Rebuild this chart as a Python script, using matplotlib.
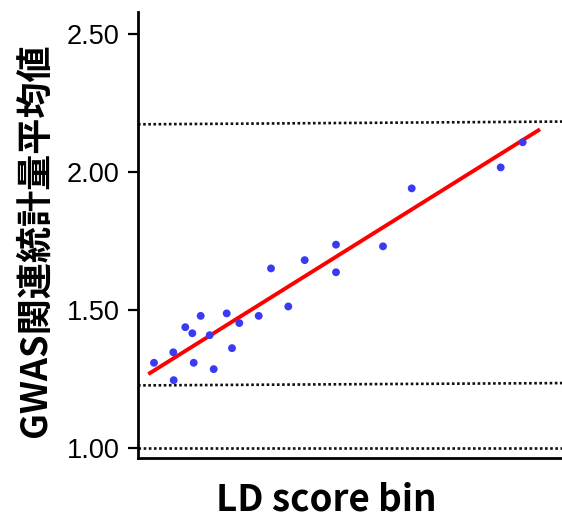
import matplotlib
matplotlib.use("Agg")
import matplotlib.pyplot as plt
import numpy as np

# Data (LD score bin vs mean GWAS statistic)
ld_score = [0.160, 0.353, 0.357, 0.473, 0.543, 0.557, 0.627, 0.717, 0.757, 0.887, 0.940,
            1.013, 1.207, 1.330, 1.503, 1.667, 1.980, 1.980, 2.450, 2.737, 3.627, 3.847]
gwas_mean = [1.309, 1.347, 1.246, 1.438, 1.416, 1.309, 1.479, 1.409, 1.286, 1.488, 1.362,
             1.453, 1.479, 1.651, 1.513, 1.681, 1.737, 1.637, 1.731, 1.941, 2.017, 2.108]

# regression line endpoints
reg_x = [0.103, 4.02]
reg_y = [1.268, 2.155]

# dotted reference lines (left value, right value)
ref_x = [0.0, 4.24]
ref_lines = [[1.000, 1.000], [1.227, 1.2355], [2.173, 2.183]]

yticks = [1.0, 1.5, 2.0, 2.5]
ytick_labels = ["1.00", "1.50", "2.00", "2.50"]

fig = plt.figure(figsize=(5.62, 5.20), dpi=100)
W, H = 562, 520
ax = fig.add_axes([138 / W, (H - 458) / H, (562 - 138) / W, (458 - 12) / H])

for yy in ref_lines:
    ax.plot(ref_x, yy, color="#111111", lw=1.9, linestyle=(0, (1, 0.95)), zorder=1,
            dash_capstyle="butt")

ax.scatter(ld_score, gwas_mean, s=32, color="#3a3af5", edgecolors="none", zorder=3)
ax.plot(reg_x, reg_y, color="#ff0000", lw=2.8, zorder=2, solid_capstyle="butt")

ax.set_xlim(0, 4.24)
ax.set_ylim(0.964, 2.58)
ax.set_xticks([])
ax.set_yticks(yticks)
ax.set_yticklabels(ytick_labels, fontsize=19.5, family=["Liberation Sans", "DejaVu Sans"])
ax.tick_params(axis="y", length=7.2, width=1.6, pad=6.0, colors="black")

for s in ["top", "right"]:
    ax.spines[s].set_visible(False)
for s in ["left", "bottom"]:
    ax.spines[s].set_linewidth(2.0)
    ax.spines[s].set_color("black")

fig.text(326 / W, 1 - 500 / H, "LD score bin", fontsize=26.5, fontweight="bold",
         family=["Noto Sans CJK JP", "DejaVu Sans"], ha="center", va="center")
fig.text(35 / W, 1 - 240 / H, "GWAS関連統計量平均値", fontsize=26, fontweight="bold",
         family=["Noto Sans CJK JP", "DejaVu Sans"], ha="center", va="center", rotation=90)

fig.savefig("out.png", dpi=100)
